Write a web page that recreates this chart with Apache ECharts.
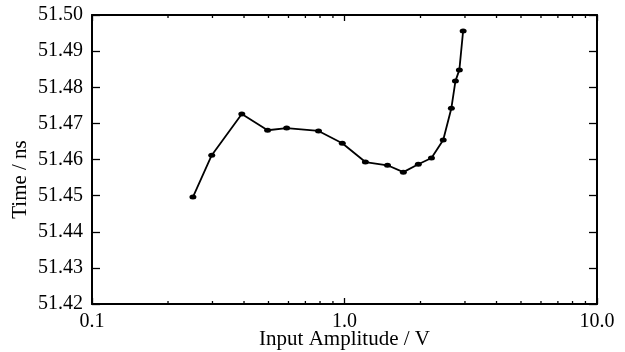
<!DOCTYPE html>
<html>
<head>
<meta charset="utf-8">
<script src="https://cdn.jsdelivr.net/npm/echarts@6/dist/echarts.min.js"></script>
<style>html,body{margin:0;padding:0;background:#fff}#c{width:625px;height:352px}</style>
</head>
<body>
<div id="c"></div>
<script>
var amplitude = [0.251, 0.298, 0.392, 0.496, 0.59, 0.789, 0.98, 1.21, 1.48, 1.71, 1.96, 2.21, 2.46, 2.65, 2.75, 2.85, 2.95];
var timeNs = [51.4496, 51.4612, 51.4726, 51.4681, 51.4687, 51.4679, 51.4645, 51.4593, 51.4584, 51.4565, 51.4587, 51.4604, 51.4654, 51.4742, 51.4817, 51.4848, 51.4956];
var minorTickValues = [0.2, 0.3, 0.4, 0.5, 0.6, 0.7, 0.8, 0.9, 2, 3, 4, 5, 6, 7, 8, 9];
var yMin = 51.42, yMax = 51.50, yStep = 0.01;

var font = 'Liberation Serif';
var chart = echarts.init(document.getElementById('c'));
var axisLineStyle = {color: '#000', width: 2};
chart.setOption({
  animation: false,
  grid: {left: 92, right: 28, top: 15, bottom: 48, containLabel: false, outerBoundsMode: 'none'},
  xAxis: [{
    type: 'log', logBase: 10, min: 0.1, max: 10, position: 'bottom',
    name: 'Input Amplitude / V', nameLocation: 'middle', nameGap: 25, nameMoveOverlap: false,
    nameTextStyle: {fontFamily: font, fontSize: 21, color: '#000', verticalAlign: 'top'},
    axisLine: {show: true, lineStyle: axisLineStyle},
    axisTick: {show: true, inside: true, length: 6, lineStyle: {color: '#000', width: 1.3}},
    axisLabel: {fontFamily: font, fontSize: 20, color: '#000', margin: 8,
      formatter: function (v) { return Number(v).toFixed(1); }},
    splitLine: {show: false}
  }, {
    type: 'log', logBase: 10, min: 0.1, max: 10, position: 'top',
    axisLine: {show: true, lineStyle: axisLineStyle},
    axisTick: {show: true, inside: true, length: 6, lineStyle: {color: '#000', width: 1.3}},
    axisLabel: {show: false}, splitLine: {show: false}
  }],
  yAxis: [{
    type: 'value', min: yMin, max: yMax, interval: yStep, position: 'left',
    name: 'Time / ns', nameLocation: 'middle', nameGap: 61, nameRotate: 90, nameMoveOverlap: false,
    nameTextStyle: {fontFamily: font, fontSize: 21, color: '#000', padding: [0, 40, 0, 0]},
    axisLine: {show: true, lineStyle: axisLineStyle},
    axisTick: {show: true, inside: true, length: 8, lineStyle: {color: '#000', width: 1.3}},
    axisLabel: {fontFamily: font, fontSize: 20, color: '#000', margin: 9,
      formatter: function (v) { return v.toFixed(2); }},
    splitLine: {show: false}
  }, {
    type: 'value', min: yMin, max: yMax, interval: yStep, position: 'right',
    axisLine: {show: true, lineStyle: axisLineStyle},
    axisTick: {show: true, inside: true, length: 8, lineStyle: {color: '#000', width: 1.3}},
    axisLabel: {show: false}, splitLine: {show: false}
  }],
  series: [{
    type: 'line',
    xAxisIndex: 0, yAxisIndex: 0,
    data: amplitude.map(function (a, i) { return [a, timeNs[i]]; }),
    symbol: 'circle', symbolSize: [7, 5],
    itemStyle: {color: '#000'},
    lineStyle: {color: '#000', width: 1.8}
  }, {
    type: 'custom',
    xAxisIndex: 0, yAxisIndex: 0,
    silent: true,
    data: minorTickValues.map(function (v) { return [v]; }),
    renderItem: function (params, api) {
      var v = api.value(0);
      var b = api.coord([v, yMin]);
      var t = api.coord([v, yMax]);
      var st = {stroke: '#000', lineWidth: 1.3};
      return {type: 'group', children: [
        {type: 'line', shape: {x1: b[0], y1: b[1], x2: b[0], y2: b[1] - 3}, style: st},
        {type: 'line', shape: {x1: t[0], y1: t[1], x2: t[0], y2: t[1] + 3}, style: st}
      ]};
    }
  }]
});
</script>
</body>
</html>
